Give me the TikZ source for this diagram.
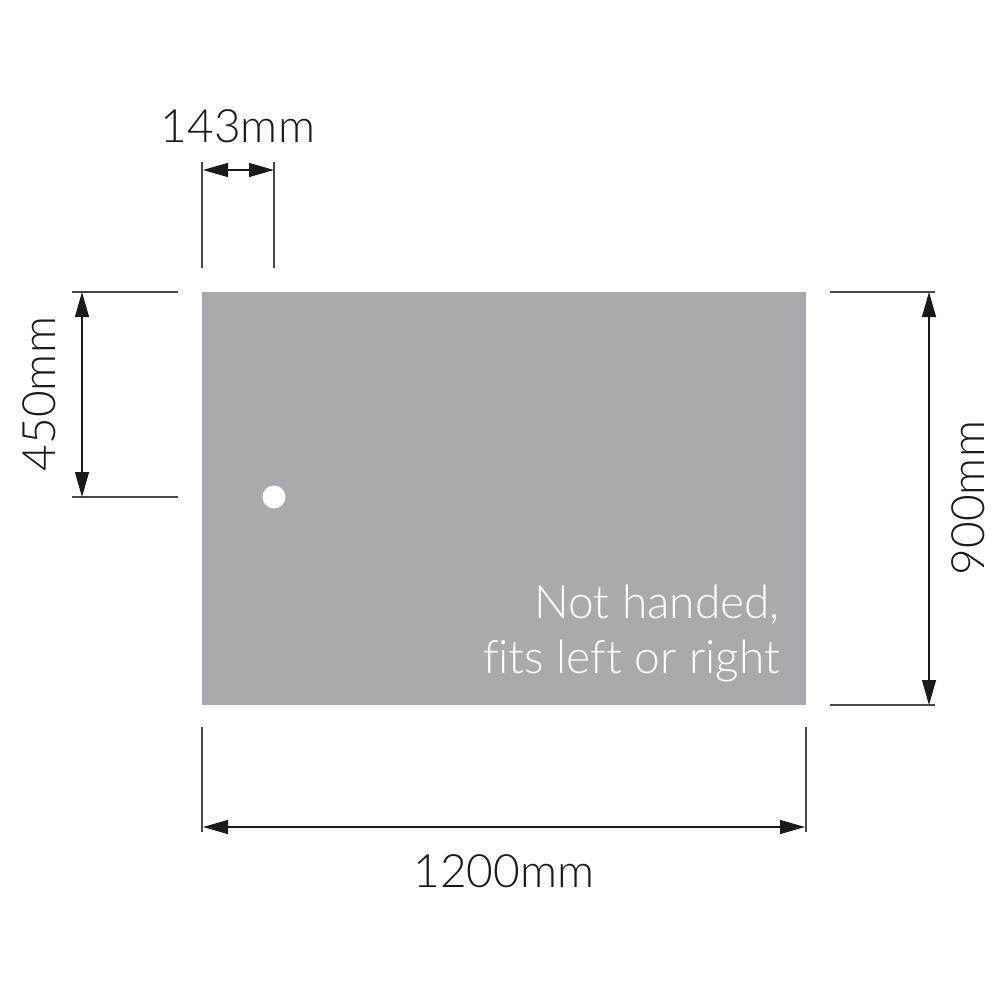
\documentclass[tikz,border=0pt]{standalone}
\usepackage{fontspec}
\setmainfont{Lato}[UprightFont=* Light, Ligatures=NoCommon]
\usetikzlibrary{arrows.meta}
\definecolor{panel}{HTML}{A9AAAD}
\definecolor{ink}{HTML}{1A1A1A}
\tikzset{
  extline/.style={draw=ink!80, line width=1.1pt},
  dimline/.style={draw=ink, line width=1.2pt, {Triangle[length=25pt,width=14pt]}-{Triangle[length=25pt,width=14pt]}},
  dimtext/.style={font=\fontsize{46}{50}\selectfont, text=ink, inner sep=0pt},
  paneltext/.style={font=\fontsize{46}{55}\selectfont, text=white, align=right, inner sep=0pt}
}
\begin{document}
\begin{tikzpicture}[x=1pt,y=-1pt]
\useasboundingbox (0,0) rectangle (1000,1000);
% panel
\fill[panel] (202,292) rectangle (806,705);
\node[circle, fill=white, minimum size=23pt, inner sep=0pt] (hole) at (274,497) {};
\node[paneltext, anchor=south east] (note) at (780,682) {Not handed,\\fits left or right};
% top dimension 143mm
\coordinate (t1) at (203,170); \coordinate (t2) at (274,170);
\draw[extline] (202,162) -- (202,268);
\draw[extline] (274,162) -- (274,268);
\draw[dimline] (t1) -- (t2);
\node[dimtext, anchor=base] (ttop) at (238,143) {143mm};
% left dimension 450mm
\coordinate (l1) at (82,292); \coordinate (l2) at (82,497);
\draw[extline] (72,292) -- (178,292);
\draw[extline] (72,497) -- (178,497);
\draw[dimline] (l1) -- (l2);
\node[dimtext, rotate=90, anchor=base] (tleft) at (55,394) {450mm};
% right dimension 900mm
\coordinate (r1) at (929,292); \coordinate (r2) at (929,705);
\draw[extline] (830,292) -- (935,292);
\draw[extline] (830,705) -- (935,705);
\draw[dimline] (r1) -- (r2);
\node[dimtext, rotate=90, anchor=base] (tright) at (984,498) {900mm};
% bottom dimension 1200mm
\coordinate (b1) at (203,827); \coordinate (b2) at (805,827);
\draw[extline] (202,727) -- (202,832);
\draw[extline] (806,727) -- (806,832);
\draw[dimline] (b1) -- (b2);
\node[dimtext, anchor=base] (tbottom) at (504,887) {1200mm};
\end{tikzpicture}
\end{document}
